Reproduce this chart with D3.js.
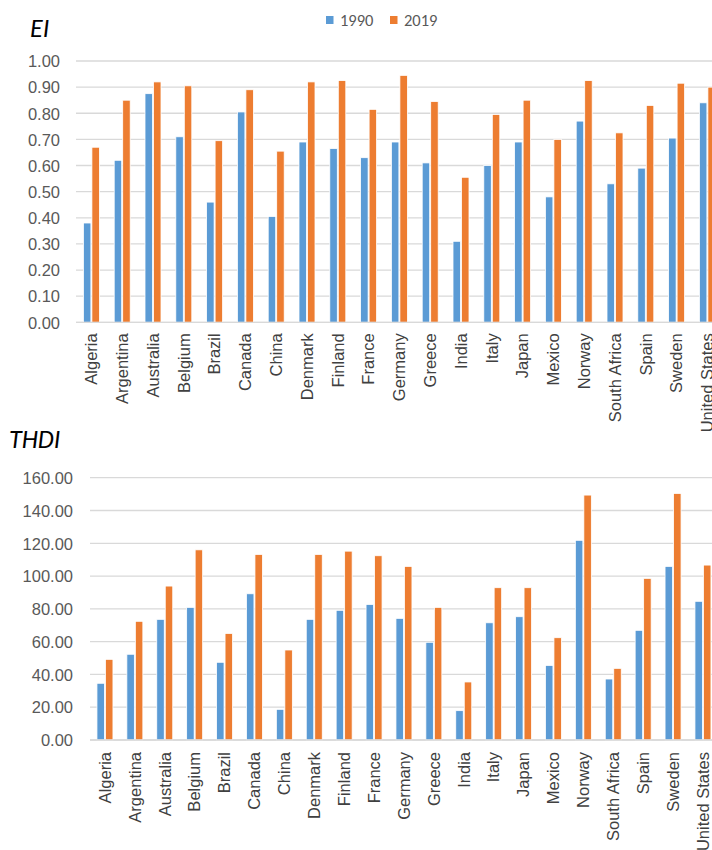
<!DOCTYPE html>
<html><head><meta charset="utf-8">
<script src="https://cdn.jsdelivr.net/npm/d3@7"></script>
<style>body{margin:0;background:#fff;} svg{display:block;font-family:Calibri,"Liberation Sans",Carlito,"Open Sans",sans-serif;}</style>
</head><body>
<svg id="chart" width="712" height="850"></svg>
<script>
const categories = ["Algeria","Argentina","Australia","Belgium","Brazil","Canada","China","Denmark","Finland","France","Germany","Greece","India","Italy","Japan","Mexico","Norway","South Africa","Spain","Sweden","United States"];
const seriesNames = ["1990","2019"];
const ei1990 = [0.38,0.62,0.875,0.71,0.46,0.805,0.405,0.69,0.665,0.63,0.69,0.61,0.31,0.60,0.69,0.48,0.77,0.53,0.59,0.705,0.84];
const ei2019 = [0.67,0.85,0.92,0.905,0.695,0.89,0.655,0.92,0.925,0.815,0.945,0.845,0.555,0.795,0.85,0.70,0.925,0.725,0.83,0.915,0.90];
const thdi1990 = [34.6,52.3,73.6,80.9,47.4,89.2,18.7,73.6,79.1,82.7,74.2,59.6,17.9,71.5,75.2,45.5,121.8,37.2,66.9,105.9,84.6];
const thdi2019 = [49.2,72.4,93.9,116.0,65.0,113.2,54.9,113.2,115.2,112.4,105.9,80.9,35.4,92.9,92.9,62.4,149.4,43.7,98.6,150.4,106.7];
const eiTicks = [0,0.1,0.2,0.3,0.4,0.5,0.6,0.7,0.8,0.9,1.0];
const thdiTicks = [0,20,40,60,80,100,120,140,160];
const colors = ["#5B9BD5","#ED7D31"];

const svg = d3.select("#chart");

function drawPanel(opts){
  const g = svg.append("g");
  const x = d3.scaleBand().domain(categories).range([opts.x0, opts.x0 + opts.step*categories.length]).paddingInner(0).paddingOuter(0);
  const y = d3.scaleLinear().domain([0, opts.max]).range([opts.y0, opts.y1]);
  const pairW = opts.barW*2 + 1;
  // gridlines
  g.append("g").selectAll("line").data(opts.ticks).join("line")
    .attr("x1", opts.x0).attr("x2", 712)
    .attr("y1", d=>y(d)).attr("y2", d=>y(d))
    .attr("stroke", "#D9D9D9").attr("stroke-width", 1.3);
  // y axis labels
  const ya = d3.axisLeft(y).tickValues(opts.ticks).tickFormat(d3.format(".2f")).tickSize(0).tickPadding(0);
  const yg = g.append("g").attr("transform", `translate(${opts.labelX},0)`).call(ya);
  yg.select(".domain").remove();
  yg.selectAll("text").attr("fill","#595959").style("font-size","16.5px").attr("dy","0.35em");
  // bars
  const data = [opts.s1, opts.s2];
  data.forEach((vals, si) => {
    g.append("g").selectAll("rect").data(categories).join("rect")
      .attr("x", c => x(c) + x.bandwidth()/2 - pairW/2 + si*(opts.barW+1))
      .attr("y", (c,i) => y(vals[i]))
      .attr("width", opts.barW)
      .attr("height", (c,i) => y(0) - y(vals[i]))
      .attr("fill", colors[si])
      .attr("stroke", "#fff").attr("stroke-width", 0.8);
  });
  // x axis labels
  const xa = d3.axisBottom(x).tickSize(0).tickPadding(0);
  const xg = g.append("g").attr("transform", `translate(0,${opts.y0})`).call(xa);
  xg.select(".domain").remove();
  xg.selectAll("text")
    .attr("transform", "rotate(-90)")
    .attr("text-anchor", "end")
    .attr("x", -opts.labelGap).attr("y", 0).attr("dy", "0.35em")
    .attr("fill", "#404040").style("font-size", "16.5px");
  // baseline
  g.append("line").attr("x1", opts.x0).attr("x2", 712).attr("y1", y(0)).attr("y2", y(0))
    .attr("stroke", "#D9D9D9").attr("stroke-width", 1.3);
  // title
  g.append("text").attr("x", opts.titleX).attr("y", opts.titleY).text(opts.title)
    .style("font-size", "26px").style("font-style", "italic").attr("fill", "#000");
}

drawPanel({x0:76, step:30.8, barW:7.5, y0:322.3, y1:61, max:1.0, ticks:eiTicks, labelX:60,
  s1:ei1990, s2:ei2019, labelGap:11, title:"EI", titleX:30, titleY:37});
drawPanel({x0:90, step:29.9, barW:7.5, y0:740, y1:477.7, max:160, ticks:thdiTicks, labelX:73,
  s1:thdi1990, s2:thdi2019, labelGap:12, title:"THDI", titleX:9, titleY:448});

// legend
const leg = svg.append("g");
const legX = [326, 390];
seriesNames.forEach((n,i)=>{
  leg.append("rect").attr("x", legX[i]).attr("y", 16).attr("width", 7.5).attr("height", 8).attr("fill", colors[i]);
  leg.append("text").attr("x", legX[i]+14).attr("y", 26).text(n).attr("fill","#595959").style("font-size","16.5px");
});
</script>
</body></html>
